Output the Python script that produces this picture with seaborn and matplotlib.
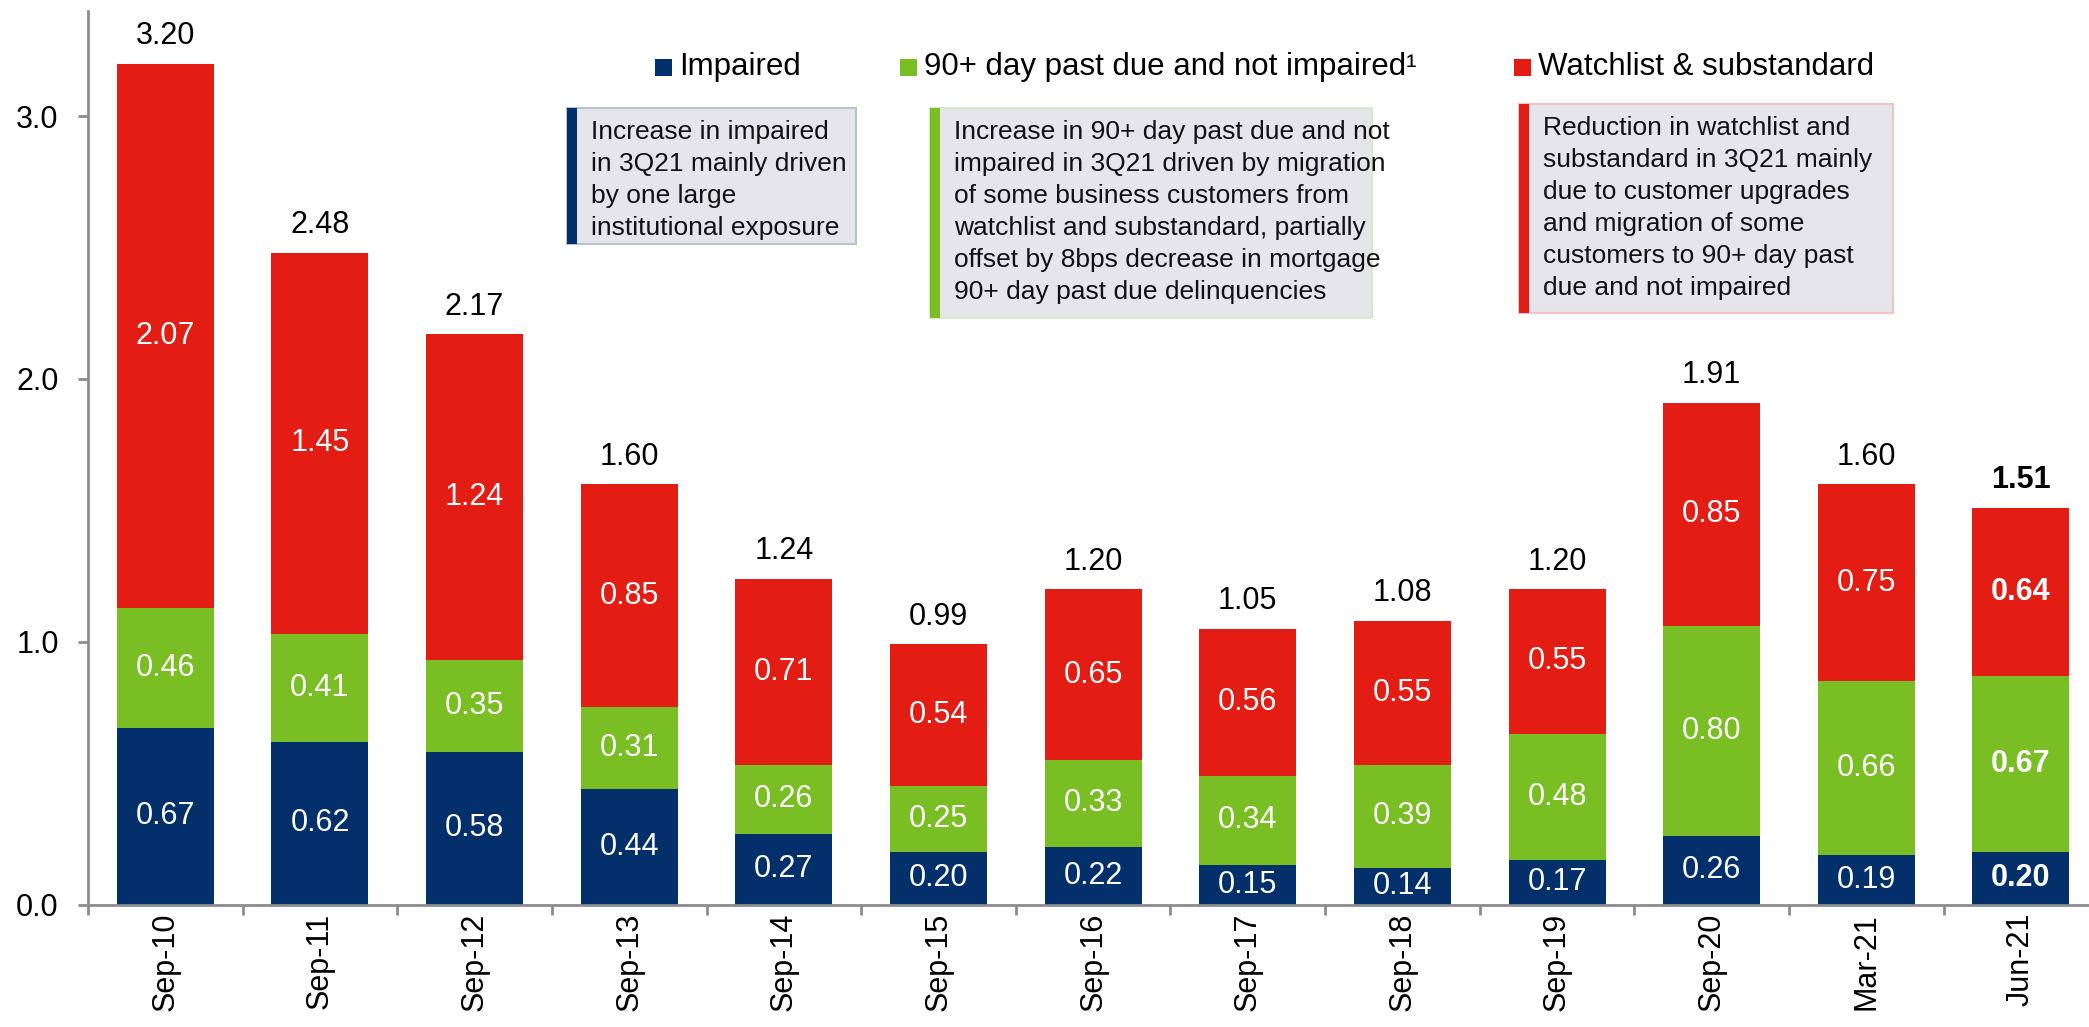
import numpy as np
import pandas as pd
import matplotlib
matplotlib.use("Agg")
import matplotlib.pyplot as plt
from matplotlib.patches import Rectangle
import seaborn as sns

periods = ["Sep-10", "Sep-11", "Sep-12", "Sep-13", "Sep-14", "Sep-15", "Sep-16",
           "Sep-17", "Sep-18", "Sep-19", "Sep-20", "Mar-21", "Jun-21"]
impaired = [0.67, 0.62, 0.58, 0.44, 0.27, 0.20, 0.22, 0.15, 0.14, 0.17, 0.26, 0.19, 0.20]
past_due = [0.46, 0.41, 0.35, 0.31, 0.26, 0.25, 0.33, 0.34, 0.39, 0.48, 0.80, 0.66, 0.67]
watchlist = [2.07, 1.45, 1.24, 0.85, 0.71, 0.54, 0.65, 0.56, 0.55, 0.55, 0.85, 0.75, 0.64]
totals = [3.20, 2.48, 2.17, 1.60, 1.24, 0.99, 1.20, 1.05, 1.08, 1.20, 1.91, 1.60, 1.51]

NAVY = "#03306B"
GREEN = "#79BE22"
RED = "#E31C14"
BOX_BG = "#E6E5EA"

df = pd.DataFrame({"period": periods, "impaired": impaired,
                   "past_due": past_due, "watchlist": watchlist, "total": totals})
df["lower2"] = df["impaired"] + df["past_due"]
df["lower3"] = df["lower2"] + df["watchlist"]

sns.set_style("white")
plt.rcParams["font.family"] = ["Liberation Sans", "DejaVu Sans"]
plt.rcParams["text.color"] = "black"
plt.rcParams["xtick.labelcolor"] = "black"
plt.rcParams["ytick.labelcolor"] = "black"

W, H = 2089, 1027
fig = plt.figure(figsize=(W / 100, H / 100), dpi=100)
ax = fig.add_axes([88 / W, 1 - 904.5 / H, 1 - 88 / W, (904.5 - 11) / H])

# stacked bars drawn as overlapping cumulative bars
sns.barplot(data=df, x="period", y="lower3", color=RED, width=0.627, saturation=1, ax=ax)
sns.barplot(data=df, x="period", y="lower2", color=GREEN, width=0.627, saturation=1, ax=ax)
sns.barplot(data=df, x="period", y="impaired", color=NAVY, width=0.627, saturation=1, ax=ax)
for p in ax.patches:
    p.set_linewidth(0)

# segment labels
last = len(periods) - 1
for i, row in df.iterrows():
    wt = "bold" if i == last else "normal"
    ax.text(i, row["impaired"] / 2, f"{row['impaired']:.2f}", ha="center", va="center",
            color="white", fontsize=22, fontweight=wt)
    ax.text(i, row["impaired"] + row["past_due"] / 2, f"{row['past_due']:.2f}", ha="center",
            va="center", color="white", fontsize=22, fontweight=wt)
    ax.text(i, row["lower2"] + row["watchlist"] / 2, f"{row['watchlist']:.2f}", ha="center",
            va="center", color="white", fontsize=22, fontweight=wt)
    ax.annotate(f"{row['total']:.2f}", (i, row["lower3"]), xytext=(0, 9),
                textcoords="offset points", ha="center", va="bottom",
                color="black", fontsize=22, fontweight=wt)

ax.set_xlim(-0.5, 12.44)
ax.set_ylim(0, 3.40)
ax.set_yticks([0, 1, 2, 3])
ax.set_yticklabels(["0.0", "1.0", "2.0", "3.0"])
ax.set_xlabel("")
ax.set_ylabel("")
ax.set_xticks(range(len(periods)))
ax.set_xticklabels(periods, rotation=90)
ax.set_xticks(np.arange(-0.5, len(periods) - 0.5, 1.0), minor=True)

for side in ["top", "right"]:
    ax.spines[side].set_visible(False)
for side in ["left", "bottom"]:
    ax.spines[side].set_color("#8C8C8C")
    ax.spines[side].set_linewidth(2)

ax.tick_params(axis="y", which="major", direction="out", length=7, width=2,
               color="#8C8C8C", labelsize=22, pad=14, left=True, labelcolor="black")
ax.tick_params(axis="x", which="major", length=0, labelsize=22, pad=6, bottom=True,
               labelcolor="black")
ax.tick_params(axis="x", which="minor", direction="out", length=7, width=2,
               color="#8C8C8C", bottom=True)


def fx(x):
    return x / W


def fy(y):
    return 1 - y / H


# legend
legend_items = [(655, NAVY, "Impaired"),
                (900, GREEN, "90+ day past due and not impaired\u00b9"),
                (1514, RED, "Watchlist & substandard")]
for x0, col, label in legend_items:
    fig.add_artist(Rectangle((fx(x0), fy(76)), 17 / W, 17 / H, transform=fig.transFigure,
                             facecolor=col, edgecolor="none"))
    fig.text(fx(x0 + 24), fy(67), label, fontsize=22.5, va="center", ha="left")

# commentary boxes
boxes = [
    (567, 108, 856, 244, NAVY, "#B8C0D2",
     "Increase in impaired\nin 3Q21 mainly driven\nby one large\ninstitutional exposure"),
    (930, 108, 1372, 318, GREEN, "#DCE8CC",
     "Increase in 90+ day past due and not\nimpaired in 3Q21 driven by migration\n"
     "of some business customers from\nwatchlist and substandard, partially\n"
     "offset by 8bps decrease in mortgage\n90+ day past due delinquencies"),
    (1519, 104, 1893, 313, RED, "#F4C4C4",
     "Reduction in watchlist and\nsubstandard in 3Q21 mainly\ndue to customer upgrades\n"
     "and migration of some\ncustomers to 90+ day past\ndue and not impaired"),
]
for x0, y0, x1, y1, col, edge, txt in boxes:
    fig.add_artist(Rectangle((fx(x0), fy(y1)), (x1 - x0) / W, (y1 - y0) / H,
                             transform=fig.transFigure, facecolor=BOX_BG,
                             edgecolor=edge, linewidth=1.5))
    fig.add_artist(Rectangle((fx(x0), fy(y1)), 10 / W, (y1 - y0) / H,
                             transform=fig.transFigure, facecolor=col, edgecolor="none"))
    fig.text(fx(x0 + 24), fy(y0 + 12), txt, fontsize=19, va="top", ha="left",
             linespacing=1.42, color="#111111")

fig.savefig("out.png", dpi=100)
